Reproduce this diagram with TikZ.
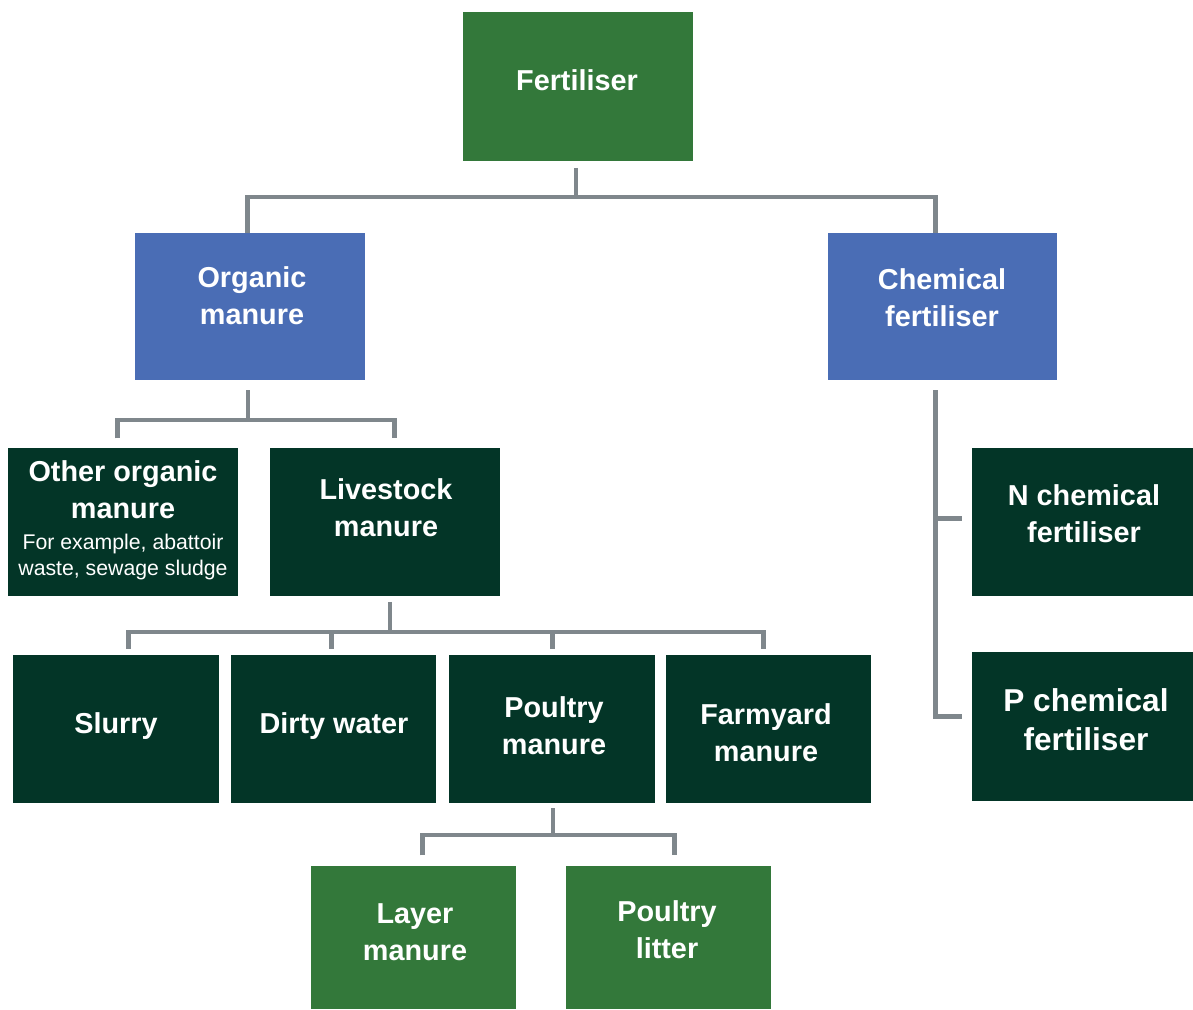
\documentclass[tikz,border=0pt]{standalone}
\usepackage{fontspec}
\setmainfont{Liberation Sans}
\usetikzlibrary{positioning}

\definecolor{topgreen}{HTML}{33783A}
\definecolor{midblue}{HTML}{4A6DB5}
\definecolor{darkgreen}{HTML}{033527}
\definecolor{linkgray}{HTML}{7F878C}

\tikzset{
  box/.style={fill=#1, rectangle, anchor=north west, inner sep=0pt, minimum height=2.96cm},
  lbl/.style={text=white, font=\bfseries\fontsize{16.4}{21}\selectfont, align=center, inner sep=0pt},
  biglbl/.style={text=white, font=\bfseries\fontsize{18}{22}\selectfont, align=center, inner sep=0pt},
  note/.style={text=white, font=\fontsize{12.1}{14.7}\selectfont, align=center, inner sep=0pt},
  link/.style={draw=linkgray, line width=2.8pt},
}

\begin{document}
\begin{tikzpicture}[x=0.02cm, y=-0.02cm]
\useasboundingbox (0,0) rectangle (1193,1009);

% top level
\node[box=topgreen, minimum width=4.6cm, minimum height=2.98cm] (fert) at (463,12) {};
\node[box=midblue, minimum width=4.6cm, minimum height=2.94cm] (org) at (135,233) {};
\node[box=midblue, minimum width=4.58cm, minimum height=2.94cm] (chem) at (828,233) {};

% second level
\node[box=darkgreen, minimum width=4.6cm] (other) at (8,448) {};
\node[box=darkgreen, minimum width=4.6cm] (live) at (270,448) {};
\node[box=darkgreen, minimum width=4.42cm] (nchem) at (972,448) {};
\node[box=darkgreen, minimum width=4.42cm, minimum height=2.98cm] (pchem) at (972,652) {};

% livestock row
\node[box=darkgreen, minimum width=4.12cm] (slurry) at (13,655) {};
\node[box=darkgreen, minimum width=4.1cm] (dirty) at (231,655) {};
\node[box=darkgreen, minimum width=4.12cm] (poultry) at (449,655) {};
\node[box=darkgreen, minimum width=4.1cm] (farm) at (666,655) {};

% poultry row
\node[box=topgreen, minimum width=4.1cm, minimum height=2.86cm] (layer) at (311,866) {};
\node[box=topgreen, minimum width=4.1cm, minimum height=2.86cm] (litter) at (566,866) {};

% labels
\node[lbl] (tfert) at (577,80) {Fertiliser};
\node[lbl] (torg) at (252,296) {Organic\\manure};
\node[lbl] (tchem) at (942,298) {Chemical\\fertiliser};
\node[lbl] (tother) at (123,490) {Other organic\\manure};
\node[note] (tnote) at (123,557) {For example, abattoir\\waste, sewage sludge};
\node[lbl] (tlive) at (386,508) {Livestock\\manure};
\node[lbl] (tnchem) at (1084,514) {N chemical\\fertiliser};
\node[biglbl] (tpchem) at (1086,720) {P chemical\\fertiliser};
\node[lbl] (tslurry) at (116,726) {Slurry};
\node[lbl] (tdirty) at (334,726) {Dirty water};
\node[lbl] (tpoultry) at (554,726) {Poultry\\manure};
\node[lbl] (tfarm) at (766,733) {Farmyard\\manure};
\node[lbl] (tlayer) at (415,932) {Layer\\manure};
\node[lbl] (tlitter) at (667,930) {Poultry\\litter};

% connectors
\coordinate (busTop) at (576,197);
\coordinate (busOrg) at (248,420);
\coordinate (busLive) at (390,632);
\coordinate (busPoul) at (553,835);
\coordinate (rail) at ([xshift=-4.25pt]chem.south);
\coordinate (nbranch) at ([yshift=2.2pt]nchem.west);
\coordinate (pbranch) at ([yshift=5.7pt]pchem.west);

\draw[link, shorten <=3.5pt] (busTop |- fert.south) -- (busTop);
\draw[link] ([xshift=-1.7pt]org.north) |- (busTop) -| ([xshift=-4.25pt]chem.north);

\draw[link, shorten <=5.5pt] (busOrg |- org.south) -- (busOrg);
\draw[link, shorten <=5.5pt, shorten >=5.5pt] ([xshift=-3.4pt]other.north) |- (busOrg) -| ([xshift=5.4pt]live.north);

\draw[link, shorten <=5.5pt, shorten >=5.5pt] (rail) |- (pbranch);
\draw[link, shorten >=5.5pt] (rail |- nbranch) -- (nbranch);

\draw[link, shorten <=3pt] (busLive |- live.south) -- (busLive);
\draw[link, shorten <=3.5pt, shorten >=3.5pt] ([xshift=6.8pt]slurry.north) |- (busLive) -| ([xshift=-3.1pt]farm.north);
\draw[link, shorten >=3.5pt] ([xshift=-1.4pt]dirty.north |- busLive) -- ([xshift=-1.4pt]dirty.north);
\draw[link, shorten >=3.5pt] (poultry.north |- busLive) -- (poultry.north);

\draw[link, shorten <=2.5pt] (busPoul |- poultry.south) -- (busPoul);
\draw[link, shorten <=6pt, shorten >=6pt] ([xshift=5pt]layer.north) |- (busPoul) -| ([xshift=3.3pt]litter.north);
\end{tikzpicture}
\end{document}
